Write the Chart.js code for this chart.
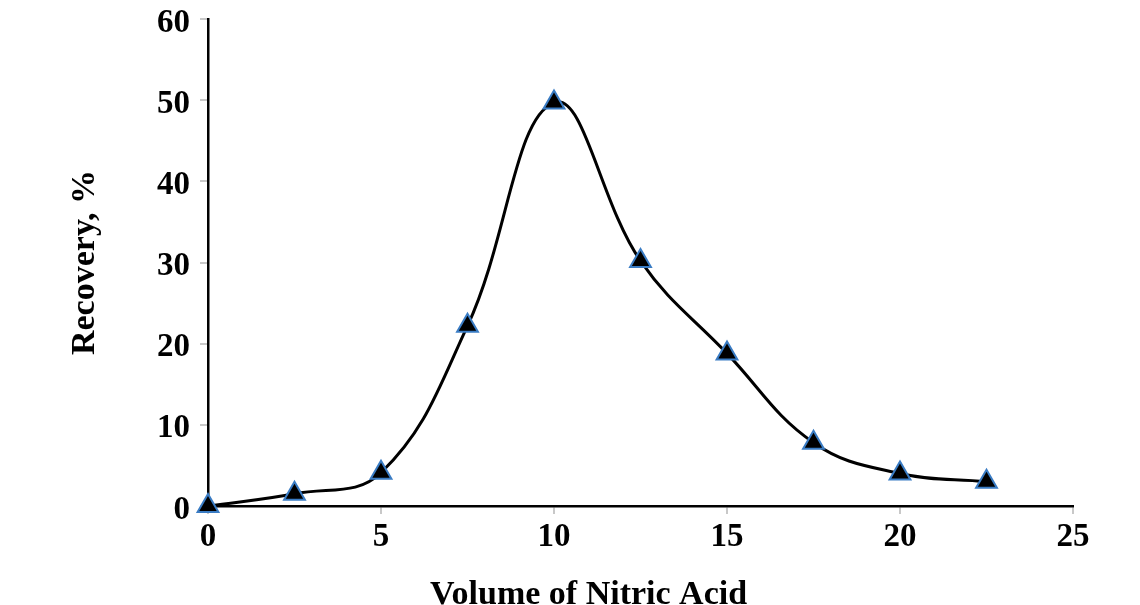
<!DOCTYPE html>
<html><head><meta charset="utf-8">
<script src="https://cdn.jsdelivr.net/npm/chart.js@4"></script>
<style>html,body{margin:0;padding:0;background:#fff;overflow:hidden}#wrap{width:1140px;height:605px;position:relative}</style>
</head><body><div id="wrap"><canvas id="c" width="1140" height="605"></canvas></div>
<script>
const volumes = [0, 2.5, 5, 7.5, 10, 12.5, 15, 17.5, 20, 22.5];
const recovery = [0, 1.5, 4.1, 22.2, 49.7, 30.2, 18.8, 7.8, 4.0, 3.0];
const xTicks = [0, 5, 10, 15, 20, 25];
const yTicks = [0, 10, 20, 30, 40, 50, 60];
const xTitle = 'Volume of Nitric Acid';
const yTitle = 'Recovery, %';

const FONT = '"Liberation Serif", "Times New Roman", serif';
const points = volumes.map((v, i) => ({ x: v, y: recovery[i] }));

const xTitlePlugin = {
  id: 'xTitle',
  afterDraw(chart) {
    const { ctx, chartArea } = chart;
    ctx.save();
    ctx.font = 'bold 34px ' + FONT;
    ctx.fillStyle = '#000';
    ctx.textAlign = 'center';
    ctx.textBaseline = 'middle';
    const cx = chartArea.left + (chartArea.right - chartArea.left) * 0.44;
    ctx.fillText(xTitle, cx, chartArea.bottom + 89);
    ctx.restore();
  }
};

new Chart(document.getElementById('c'), {
  type: 'line',
  data: {
    datasets: [{
      data: points,
      borderColor: '#000',
      borderWidth: 3,
      tension: 0.4,
      pointStyle: 'triangle',
      pointRadius: 12,
      pointBackgroundColor: '#000',
      pointBorderColor: '#3a7cc4',
      pointBorderWidth: 2,
      clip: false,
      fill: false
    }]
  },
  options: {
    responsive: false,
    animation: false,
    devicePixelRatio: 1,
    layout: { padding: { left: 65, right: 67, top: 19, bottom: 0 } },
    plugins: { legend: { display: false }, tooltip: { enabled: false } },
    scales: {
      x: {
        type: 'linear',
        min: xTicks[0],
        max: xTicks[xTicks.length - 1],
        afterBuildTicks: s => { s.ticks = xTicks.map(v => ({ value: v })); },
        afterFit: s => { s.height = 99; s.paddingLeft = 0; s.paddingRight = 0; },
        ticks: { font: { family: FONT, size: 33, weight: 'bold' }, color: '#000', padding: 4, maxRotation: 0 },
        grid: { drawOnChartArea: false, drawTicks: true, tickLength: 8, color: '#c8c8c8', lineWidth: 2 },
        border: { display: true, color: '#000', width: 2.5 }
      },
      y: {
        min: yTicks[0],
        max: yTicks[yTicks.length - 1],
        afterBuildTicks: s => { s.ticks = yTicks.map(v => ({ value: v })); },
        afterFit: s => { s.width = 143; s.paddingTop = 0; s.paddingBottom = 0; },
        ticks: { font: { family: FONT, size: 33, weight: 'bold' }, color: '#000', padding: 10, labelOffset: 4 },
        grid: { drawOnChartArea: false, drawTicks: true, tickLength: 8, color: '#c8c8c8', lineWidth: 2 },
        border: { display: true, color: '#000', width: 2.5 },
        title: { display: true, text: yTitle, font: { family: FONT, size: 34, weight: 'bold' }, color: '#000', padding: 0 }
      }
    }
  },
  plugins: [xTitlePlugin]
});
</script></body></html>
